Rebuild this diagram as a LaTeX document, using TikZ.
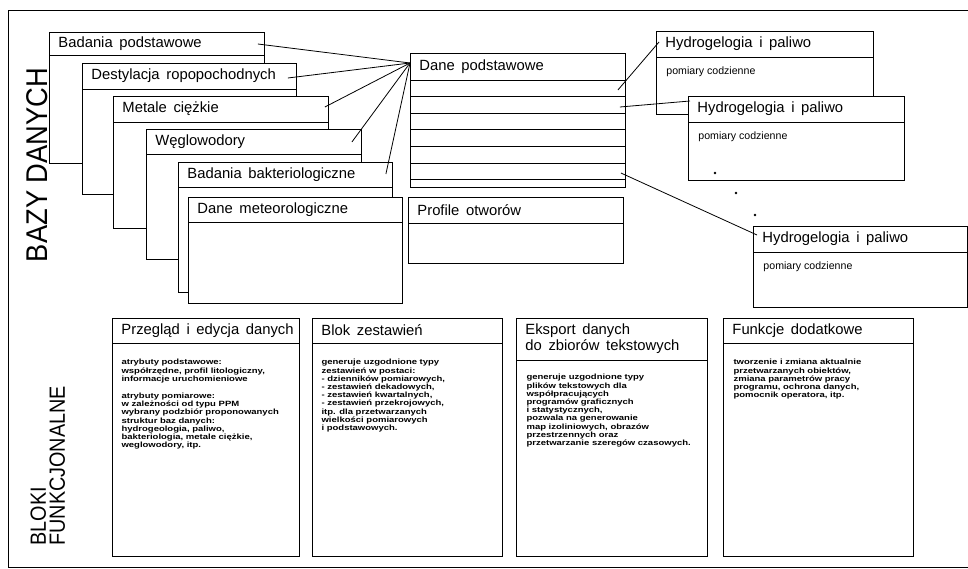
\documentclass[tikz,border=0pt]{standalone}
\usepackage{fontspec}
\setmainfont{Liberation Sans}
\usepackage{graphicx}

\newcommand{\widegap}{\spaceskip=.45em\relax}
% box with a title row
\newcommand{\tabbox}[7]{%
  \node[tab, minimum width=#4pt, minimum height=#5pt] (#1) at (#2,#3) {};
  \draw ([yshift=-#6pt]#1.north west) -- ([yshift=-#6pt]#1.north east);
  \node[tabtitle] (#1-t) at ([xshift=9pt,yshift=-#6pt/2]#1.north west) {#7};
}

\begin{document}
\begin{tikzpicture}[x=1pt, y=-1pt, line width=.9pt,
  tab/.style={draw, fill=white, anchor=north west, inner sep=0pt},
  tabtitle/.style={anchor=west, inner sep=0pt, align=left, font=\fontsize{14.8}{16}\selectfont\widegap},
  tabnote/.style={anchor=west, inner sep=0pt, font=\fontsize{10.6}{12}\selectfont},
  blockbody/.style={anchor=north west, inner sep=0pt, align=left, xscale=1.25, font=\fontsize{7.6}{8.2}\selectfont\bfseries},
  link/.style={line width=.8pt},
  sidelabel/.style={rotate=90, inner sep=0pt}]

\fill[white] (0,0) rectangle (968,569);
\useasboundingbox (0,0) rectangle (968,569);

% frame
\draw (968,10) -- (8,10) -- (8,567) -- (968,567);

% data bases, back to front
\tabbox{bp}{49}{32}{215}{131}{23}{Badania podstawowe}
\tabbox{dr}{82}{63}{214}{131}{26}{Destylacja ropopochodnych}
\tabbox{mc}{113}{96}{215}{132}{26}{Metale ciężkie}
\tabbox{wg}{146}{129}{215}{130}{25}{Węglowodory}
\tabbox{bb}{178}{162}{214}{130}{25}{Badania bakteriologiczne}
\tabbox{dm}{188}{197}{214}{106}{25}{Dane meteorologiczne}

\tabbox{dp}{410}{53}{215}{134}{27}{Dane podstawowe}
\foreach \k in {1,...,6}
  \draw ([yshift=-27pt-\k*16.6pt]dp.north west) -- ([yshift=-27pt-\k*16.6pt]dp.north east);
\tabbox{po}{408}{197}{215}{66}{26}{Profile otworów}

\tabbox{hg1}{656}{31}{217}{83}{26}{Hydrogelogia i paliwo}
\node[tabnote] (hg1-n) at ([xshift=10pt,yshift=-41pt]hg1.north west) {pomiary codzienne};
\tabbox{hg2}{688}{96}{216}{84}{26}{Hydrogelogia i paliwo}
\node[tabnote] (hg2-n) at ([xshift=10pt,yshift=-41pt]hg2.north west) {pomiary codzienne};
\tabbox{hg3}{753}{226}{214}{81}{26}{Hydrogelogia i paliwo}
\node[tabnote] (hg3-n) at ([xshift=10pt,yshift=-41pt]hg3.north west) {pomiary codzienne};

\foreach \p in {(715,173),(736,193),(755,215)}
  \fill \p circle (1.3);

% links
\coordinate (fan) at ([yshift=-10pt]dp.north west);
\foreach \n/\dx/\dy in {bp/-7/12, dr/-9/15, mc/-4/11, wg/-10/13, bb/-7/12}
  \draw[link] (fan) -- ([xshift=\dx pt,yshift=-\dy pt]\n.north east);
\draw[link] ([xshift=-8pt,yshift=-37pt]dp.north east) -- ([xshift=3pt,yshift=-11pt]hg1.north west);
\draw[link] ([xshift=-6pt,yshift=-54pt]dp.north east) -- ([xshift=2pt,yshift=-5pt]hg2.north west);
\draw[link] ([xshift=-5pt,yshift=-120pt]dp.north east) -- ([xshift=4pt,yshift=-9pt]hg3.north west);

% functional blocks
\tabbox{pe}{112}{318}{187}{238}{25}{Przegląd i edycja danych}
\node[blockbody] (pe-b) at ([xshift=9pt,yshift=-41pt]pe.north west) {atrybuty podstawowe:\\
  współrzędne, profil litologiczny,\\ informacje uruchomieniowe\\[9pt]
  atrybuty pomiarowe:\\ w zależności od typu PPM\\ wybrany podzbiór proponowanych\\
  struktur baz danych:\\ hydrogeologia, paliwo,\\ bakteriologia, metale ciężkie,\\ weglowodory, itp.};
\tabbox{bz}{312}{318}{190}{238}{25}{Blok zestawień}
\node[blockbody] (bz-b) at ([xshift=9pt,yshift=-41pt]bz.north west) {generuje uzgodnione typy\\
  zestawień w postaci:\\ - dzienników pomiarowych,\\ - zestawień dekadowych,\\
  - zestawień kwartalnych,\\ - zestawień przekrojowych,\\ itp. dla przetwarzanych\\
  wielkości pomiarowych\\ i podstawowych.};
\tabbox{ed}{516}{318}{191}{238}{42}{Eksport danych\\do zbiorów tekstowych}
\node[blockbody] (ed-b) at ([xshift=10pt,yshift=-56pt]ed.north west) {generuje uzgodnione typy\\
  plików tekstowych dla\\ współpracujących\\ programów graficznych\\ i statystycznych,\\
  pozwala na generowanie\\ map izoliniowych, obrazów\\ przestrzennych oraz\\
  przetwarzanie szeregów czasowych.};
\tabbox{fd}{723}{318}{190}{238}{25}{Funkcje dodatkowe}
\node[blockbody] (fd-b) at ([xshift=10pt,yshift=-41pt]fd.north west) {tworzenie i zmiana aktualnie\\
  przetwarzanych obiektów,\\ zmiana parametrów pracy\\ programu, ochrona danych,\\
  pomocnik operatora, itp.};

% side labels
\node[sidelabel, font=\fontsize{30}{30}\selectfont] (bazy) at (37,165) {\scalebox{.91}[1]{BAZY DANYCH}};
\node[sidelabel, anchor=north west, align=left, font=\fontsize{22}{19}\selectfont] (bloki) at (30,546) {\scalebox{.9}[1]{BLOKI}\\\scalebox{.9}[1]{FUNKCJONALNE}};
\end{tikzpicture}
\end{document}
